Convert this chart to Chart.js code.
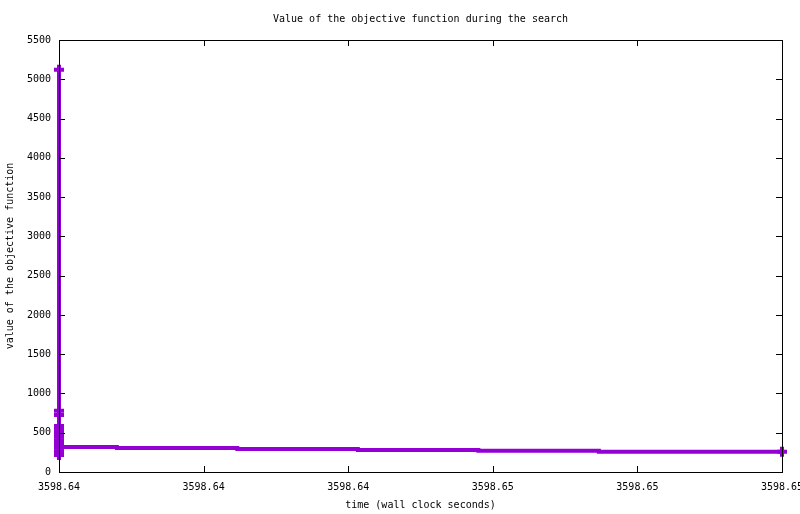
<!DOCTYPE html>
<html>
<head>
<meta charset="utf-8">
<script src="https://cdn.jsdelivr.net/npm/chart.js@4/dist/chart.umd.min.js"></script>
<style>
  html, body { margin: 0; padding: 0; background: #fff; }
  #wrap { width: 800px; height: 514px; }
</style>
</head>
<body>
<div id="wrap"><canvas id="objChart"></canvas></div>
<script>
// data (time in wall clock seconds, objective value)
const times = [
    3598.6385, 3598.6385, 3598.6385, 3598.6385, 3598.6385, 3598.6385,
    3598.6385, 3598.6385, 3598.6385, 3598.6385, 3598.6385, 3598.6385, 3598.6385,
    3598.6397, 3598.6422, 3598.6447, 3598.6472, 3598.6497, 3598.6522, 3598.6535
];
const objValues = [
    5120, 780, 725, 585, 540, 495, 450, 405, 360, 310, 265, 217, 335,
    318, 305, 293, 280, 270, 257, 257
];
// which points carry a marker
const showMarker = [
    true, true, true, true, true, true, true, true, true, true, true, true, true,
    false, false, false, false, false, false, true
];
const xTickValues = [3598.6385, 3598.6415, 3598.6445, 3598.6475, 3598.6505, 3598.6535];
const xTickLabels = ['3598.64', '3598.64', '3598.64', '3598.65', '3598.65', '3598.65'];
const yTickValues = [0, 500, 1000, 1500, 2000, 2500, 3000, 3500, 4000, 4500, 5000, 5500];

const monoFont = { family: '"DejaVu Sans Mono", monospace', size: 10, weight: 'normal' };

// border box and inward tick marks on all four sides (gnuplot style)
const frameTicks = {
    id: 'frameTicks',
    afterDatasetsDraw(chart) {
        const ctx = chart.ctx;
        const a = chart.chartArea;
        const xs = chart.scales.x, ys = chart.scales.y;
        ctx.save();
        ctx.strokeStyle = '#000';
        ctx.lineWidth = 1;
        ctx.beginPath();
        yTickValues.forEach(v => {
            const y = Math.round(ys.getPixelForValue(v)) + 0.5;
            ctx.moveTo(a.left, y); ctx.lineTo(a.left + 6, y);
            ctx.moveTo(a.right, y); ctx.lineTo(a.right - 6, y);
        });
        xTickValues.forEach(v => {
            const x = Math.round(xs.getPixelForValue(v)) + 0.5;
            ctx.moveTo(x, a.bottom); ctx.lineTo(x, a.bottom - 6);
            ctx.moveTo(x, a.top); ctx.lineTo(x, a.top + 6);
        });
        ctx.stroke();
        ctx.strokeRect(Math.round(a.left) + 0.5, Math.round(a.top) + 0.5,
            Math.round(a.right - a.left), Math.round(a.bottom - a.top));
        ctx.restore();
    }
};

const ctx = document.getElementById('objChart').getContext('2d');
const objChart = new Chart(ctx, {
    type: 'line',
    data: {
        datasets: [{
            label: 'objective',
            data: times.map((t, i) => ({ x: t, y: objValues[i] })),
            stepped: 'after',
            clip: false,
            borderColor: '#9400d3',
            backgroundColor: '#9400d3',
            borderWidth: 4,
            pointStyle: 'cross',
            pointRadius: showMarker.map(m => m ? 5 : 0),
            pointBorderWidth: 4,
            pointHoverRadius: 0,
            fill: false
        }]
    },
    plugins: [frameTicks],
    options: {
        responsive: true,
        maintainAspectRatio: false,
        animation: false,
        layout: { padding: { left: 0, right: 18, top: 0, bottom: 0 } },
        plugins: {
            legend: { display: false },
            tooltip: { enabled: false },
            title: {
                display: true,
                fullSize: false,
                text: 'Value of the objective function during the search',
                color: '#000',
                font: monoFont,
                padding: { top: 13, bottom: 15 }
            }
        },
        scales: {
            x: {
                type: 'linear',
                min: 3598.6385,
                max: 3598.6535,
                grid: { display: false, drawTicks: false },
                border: { display: false },
                afterBuildTicks(scale) {
                    scale.ticks = xTickValues.map(v => ({ value: v }));
                },
                afterFit(scale) {
                    scale.height = 42;
                    scale.paddingLeft = 0;
                    scale.paddingRight = 0;
                },
                ticks: {
                    autoSkip: false,
                    maxRotation: 0,
                    padding: 9,
                    color: '#000',
                    font: monoFont,
                    callback: function(value, index) {
                        return xTickLabels[index];
                    }
                },
                title: {
                    display: true,
                    text: 'time (wall clock seconds)',
                    color: '#000',
                    font: monoFont,
                    padding: { top: 4, bottom: 3 }
                }
            },
            y: {
                min: 0,
                max: 5500,
                grid: { display: false, drawTicks: false },
                border: { display: false },
                afterBuildTicks(scale) {
                    scale.ticks = yTickValues.map(v => ({ value: v }));
                },
                afterFit(scale) {
                    scale.width = 59;
                    scale.paddingTop = 0;
                    scale.paddingBottom = 0;
                },
                ticks: {
                    padding: 8,
                    color: '#000',
                    font: monoFont,
                    callback: function(value) {
                        return String(value);
                    }
                },
                title: {
                    display: true,
                    text: 'value of the objective function',
                    color: '#000',
                    font: monoFont,
                    padding: { top: 4, bottom: 4 }
                }
            }
        }
    }
});
</script>
</body>
</html>
